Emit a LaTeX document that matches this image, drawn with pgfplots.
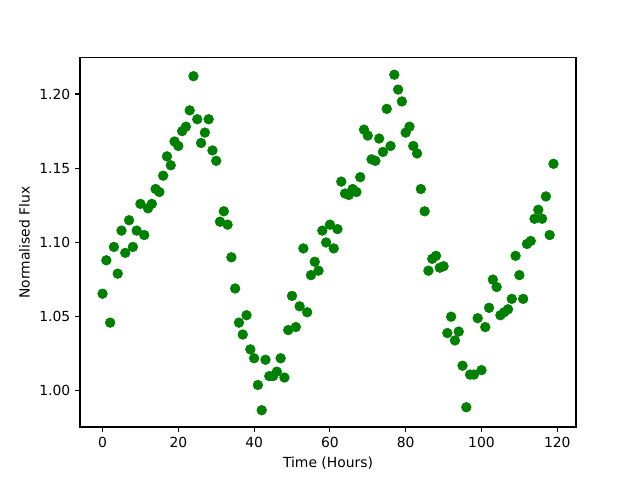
\documentclass[border=0pt]{standalone}
\usepackage{pgfplots}
\pgfplotsset{compat=1.18}
\usepackage{fontspec}
\setmainfont{DejaVu Sans}
\definecolor{mplgreen}{HTML}{008000}
\begin{document}
\begin{tikzpicture}
\begin{axis}[
  scale only axis,
  width=357.1pt, height=265.7pt,
  xmin=-5.95, xmax=124.95,
  ymin=0.9757, ymax=1.2243,
  xtick={0,20,40,60,80,100,120},
  ytick={1.00,1.05,1.10,1.15,1.20},
  yticklabel style={/pgf/number format/.cd,fixed,fixed zerofill,precision=2},
  /pgf/number format/assume math mode=true,
  tick align=outside,
  tick pos=left,
  major tick length=3.5pt,
  tick style={black, line width=0.8pt},
  axis line style={line width=0.8pt},
  ticklabel style={font=\fontsize{10}{12}\selectfont},
  label style={font=\fontsize{10}{12}\selectfont},
  xlabel={Time (Hours)},
  ylabel={Normalised Flux},
  clip=false,
]
\path (rel axis cs:-0.1613,-0.1436) rectangle (rel axis cs:1.129,1.157);
\addplot[only marks, mark=*, mark size=3.5pt, color=mplgreen, mark options={fill=mplgreen, draw=mplgreen}] coordinates {
(0,1.0655) (1,1.088) (2,1.046) (3,1.097) (4,1.079) (5,1.108) (6,1.093) (7,1.115) (8,1.097) (9,1.108)
(10,1.126) (11,1.105) (12,1.123) (13,1.126) (14,1.136) (15,1.134) (16,1.145) (17,1.158) (18,1.152) (19,1.168)
(20,1.165) (21,1.175) (22,1.178) (23,1.189) (24,1.212) (25,1.183) (26,1.167) (27,1.174) (28,1.183) (29,1.162)
(30,1.155) (31,1.114) (32,1.121) (33,1.112) (34,1.090) (35,1.069) (36,1.046) (37,1.038) (38,1.051) (39,1.028)
(40,1.022) (41,1.004) (42,0.987) (43,1.021) (44,1.010) (45,1.010) (46,1.013) (47,1.022) (48,1.009) (49,1.041)
(50,1.064) (51,1.043) (52,1.057) (53,1.096) (54,1.053) (55,1.078) (56,1.087) (57,1.081) (58,1.108) (59,1.100)
(60,1.112) (61,1.096) (62,1.109) (63,1.141) (64,1.133) (65,1.132) (66,1.136) (67,1.134) (68,1.144) (69,1.176)
(70,1.172) (71,1.156) (72,1.155) (73,1.170) (74,1.161) (75,1.190) (76,1.165) (77,1.213) (78,1.203) (79,1.195)
(80,1.174) (81,1.178) (82,1.165) (83,1.160) (84,1.136) (85,1.121) (86,1.081) (87,1.089) (88,1.091) (89,1.083)
(90,1.084) (91,1.039) (92,1.050) (93,1.034) (94,1.040) (95,1.017) (96,0.989) (97,1.011) (98,1.011) (99,1.049)
(100,1.014) (101,1.043) (102,1.056) (103,1.075) (104,1.070) (105,1.051) (106,1.053) (107,1.055) (108,1.062) (109,1.091)
(110,1.078) (111,1.062) (112,1.099) (113,1.101) (114,1.116) (115,1.122) (116,1.116) (117,1.131) (118,1.105) (119,1.153)
};
\end{axis}
\end{tikzpicture}
\end{document}
